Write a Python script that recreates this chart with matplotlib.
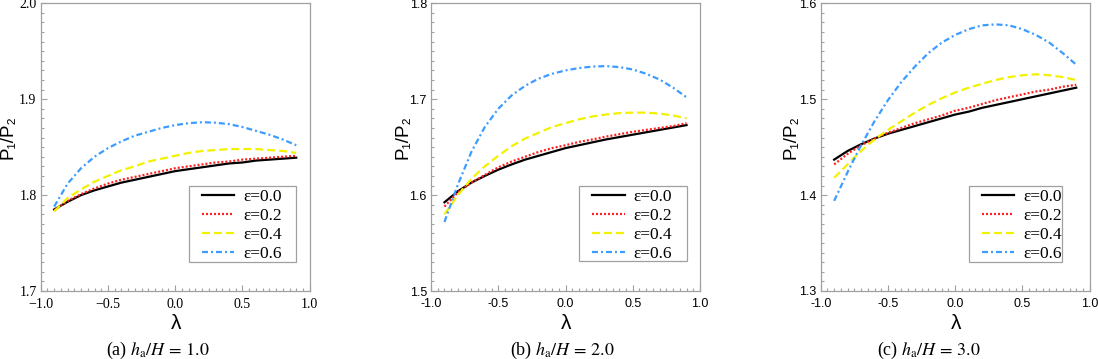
import matplotlib
matplotlib.use("Agg")
import matplotlib.pyplot as plt
from matplotlib.patches import Rectangle
from matplotlib.ticker import MultipleLocator, FixedLocator, FixedFormatter

# ---------------- data ----------------
lam = [-0.9, -0.8, -0.7, -0.6, -0.5, -0.4, -0.3, -0.2, -0.1, 0.0,
       0.1, 0.2, 0.3, 0.4, 0.5, 0.6, 0.7, 0.8, 0.9]

eps_labels = ["ε=0.0", "ε=0.2", "ε=0.4", "ε=0.6"]

# panel (a) h_a/H = 1.0
a_e00 = [1.785, 1.793, 1.800, 1.805, 1.809, 1.813, 1.816, 1.819, 1.822, 1.825,
         1.827, 1.829, 1.831, 1.833, 1.834, 1.836, 1.837, 1.838, 1.839]
a_e02 = [1.784, 1.794, 1.801, 1.807, 1.812, 1.816, 1.819, 1.822, 1.825, 1.828,
         1.830, 1.832, 1.834, 1.835, 1.837, 1.838, 1.839, 1.840, 1.841]
a_e04 = [1.783, 1.797, 1.806, 1.814, 1.820, 1.826, 1.830, 1.835, 1.838, 1.841,
         1.844, 1.846, 1.847, 1.848, 1.848, 1.848, 1.847, 1.846, 1.844]
a_e06 = [1.788, 1.812, 1.828, 1.840, 1.849, 1.856, 1.862, 1.866, 1.870, 1.873,
         1.875, 1.876, 1.8755, 1.874, 1.871, 1.867, 1.863, 1.858, 1.852]

# panel (b) h_a/H = 2.0
b_e00 = [1.5925, 1.604, 1.613, 1.620, 1.6265, 1.632, 1.637, 1.641, 1.645, 1.649,
         1.652, 1.655, 1.658, 1.6605, 1.663, 1.6655, 1.668, 1.6705, 1.673]
b_e02 = [1.588, 1.603, 1.613, 1.621, 1.629, 1.635, 1.640, 1.645, 1.649, 1.652,
         1.6555, 1.658, 1.661, 1.6635, 1.666, 1.668, 1.670, 1.672, 1.675]
b_e04 = [1.580, 1.600, 1.617, 1.630, 1.641, 1.651, 1.659, 1.665, 1.671, 1.675,
         1.679, 1.682, 1.684, 1.6855, 1.686, 1.686, 1.685, 1.683, 1.680]
b_e06 = [1.572, 1.611, 1.645, 1.671, 1.690, 1.704, 1.714, 1.7215, 1.7265, 1.730,
         1.7325, 1.734, 1.7345, 1.7335, 1.731, 1.7265, 1.7205, 1.712, 1.702]

# panel (c) h_a/H = 3.0
c_e00 = [1.437, 1.446, 1.453, 1.459, 1.464, 1.468, 1.472, 1.476, 1.480, 1.484,
         1.487, 1.491, 1.494, 1.497, 1.500, 1.503, 1.506, 1.509, 1.512]
c_e02 = [1.432, 1.443, 1.452, 1.459, 1.465, 1.470, 1.475, 1.479, 1.483, 1.488,
         1.491, 1.495, 1.499, 1.502, 1.505, 1.508, 1.510, 1.513, 1.515]
c_e04 = [1.418, 1.432, 1.446, 1.458, 1.468, 1.477, 1.486, 1.494, 1.501, 1.507,
         1.512, 1.516, 1.520, 1.523, 1.525, 1.526, 1.525, 1.523, 1.520]
c_e06 = [1.394, 1.424, 1.452, 1.477, 1.499, 1.518, 1.534, 1.548, 1.559, 1.567,
         1.573, 1.577, 1.578, 1.577, 1.573, 1.567, 1.559, 1.548, 1.536]

xticks = [-1.0, -0.5, 0.0, 0.5, 1.0]
xticklabels_a = ["\u22121.0", "\u22120.5", "0.0", "0.5", "1.0"]
xticklabels_bc = ["-1.0", "-0.5", "0.0", "0.5", "1.0"]
yticks_a = [1.7, 1.8, 1.9, 2.0]
yticks_b = [1.5, 1.6, 1.7, 1.8]
yticks_c = [1.3, 1.4, 1.5, 1.6]
captions = ["(a) $h_{\\mathrm{a}}/H\\,=\\,1.0$",
            "(b) $h_{\\mathrm{a}}/H\\,=\\,2.0$",
            "(c) $h_{\\mathrm{a}}/H\\,=\\,3.0$"]

# ---------------- styling ----------------
colors = ["#000000", "#ff1f1f", "#f2f200", "#3d9cff"]
lstyles = ["-", (0, (0.9, 0.9)), (0, (3.6, 1.8)), (0, (2.7, 1.35, 0.9, 1.35))]
spine_col = "#a0a0a0"

fig = plt.figure(figsize=(10.98, 3.59), dpi=100)

W, H = 1098.0, 359.0
ax_left_px = [40.7, 431.0, 820.7]
ax_w_px = 269.0
ax_top_px, ax_bot_px = 3.3, 291.0

panels = [
    (a_e00, a_e02, a_e04, a_e06, yticks_a, xticklabels_a, "serif"),
    (b_e00, b_e02, b_e04, b_e06, yticks_b, xticklabels_bc, "sans"),
    (c_e00, c_e02, c_e04, c_e06, yticks_c, xticklabels_bc, "sans"),
]
caption_x_px = [158, 562, 929]
ylabel_x = [-0.12, -0.105, -0.11]
# legend frame box (axes fraction): x0, x1, y0, y1
leg_box = [(0.552, 0.949, 0.101, 0.365),
           (0.549, 0.952, 0.104, 0.366),
           (0.550, 0.897, 0.101, 0.365)]

for i, (s0, s2, s4, s6, yt, xtl, tfont) in enumerate(panels):
    ax = fig.add_axes([ax_left_px[i] / W, (H - ax_bot_px) / H,
                       ax_w_px / W, (ax_bot_px - ax_top_px) / H])
    for ys, c, ls, lab in zip([s0, s2, s4, s6], colors, lstyles, eps_labels):
        ax.plot(lam, ys, color=c, linestyle=ls, linewidth=1.6, label=lab,
                dash_capstyle="butt")
    ax.set_xlim(-1.0, 1.0)
    ax.set_ylim(yt[0], yt[-1])
    ax.xaxis.set_major_locator(FixedLocator(xticks))
    ax.xaxis.set_major_formatter(FixedFormatter(xtl))
    ax.xaxis.set_minor_locator(MultipleLocator(0.05))
    ax.yaxis.set_major_locator(FixedLocator(yt))
    ax.yaxis.set_major_formatter(FixedFormatter(["%.1f" % v for v in yt]))
    ax.yaxis.set_minor_locator(MultipleLocator(0.01))
    fam = "Liberation Serif" if tfont == "serif" else "Liberation Sans"
    fsz = 10 if tfont == "serif" else 9
    ax.tick_params(which="both", direction="in", color=spine_col,
                   top=False, right=False, width=0.8,
                   labelfontfamily=fam, labelsize=fsz)
    ax.tick_params(which="major", length=4.5)
    ax.tick_params(which="minor", length=2.2)
    ax.tick_params(axis="x", pad=5.0)
    ax.tick_params(axis="y", pad=3)
    for sp in ax.spines.values():
        sp.set_color(spine_col)
        sp.set_linewidth(0.9)

    ax.set_ylabel("P\u2081/P\u2082", family=["Liberation Sans", "DejaVu Sans"],
                  fontsize=13.5, va="center")
    ax.yaxis.set_label_coords(ylabel_x[i], 0.534)
    ax.set_xlabel("λ", family=["Liberation Sans", "DejaVu Sans"], fontsize=15,
                  va="center")
    ax.xaxis.set_label_coords(0.503, -0.112)

    x0, x1, y0, y1 = leg_box[i]
    ax.add_patch(Rectangle((x0, y0), x1 - x0, y1 - y0, transform=ax.transAxes,
                           facecolor="white", edgecolor=spine_col,
                           linewidth=0.9, zorder=4))
    leg = ax.legend(loc="upper left", bbox_to_anchor=(0.599, y1 - 0.010),
                    prop={"family": "Liberation Serif", "size": 12.5},
                    frameon=False, handlelength=1.87, handletextpad=0.5,
                    labelspacing=0.17, borderpad=0.0, borderaxespad=0.0)
    leg.set_zorder(5)

    fig.text(caption_x_px[i] / W, 1 - 350 / H, captions[i],
             family="Liberation Serif", math_fontfamily="stix", fontsize=13,
             ha="center", va="center")

fig.savefig("out.png", dpi=100)
